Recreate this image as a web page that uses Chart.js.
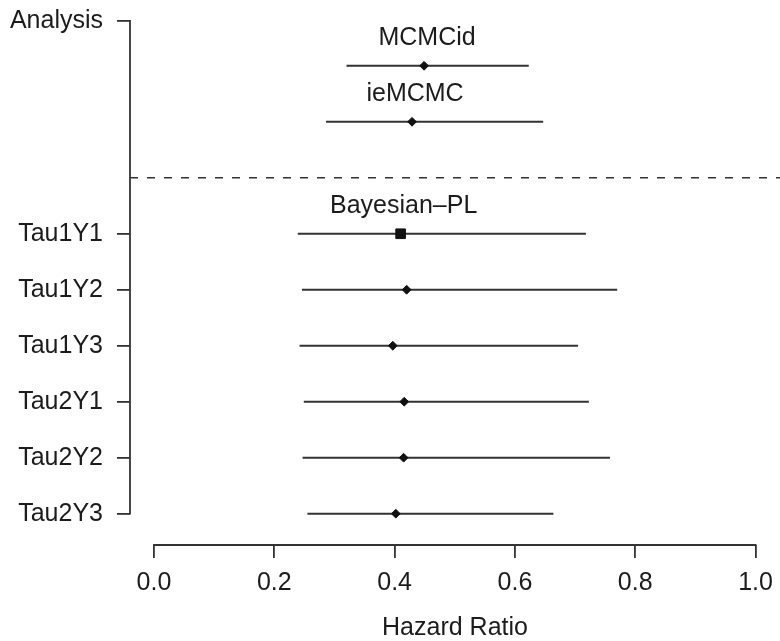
<!DOCTYPE html>
<html>
<head>
<meta charset="utf-8">
<script src="https://cdn.jsdelivr.net/npm/chart.js@4.4.1/dist/chart.umd.min.js"></script>
<style>
  html, body { margin: 0; padding: 0; background: #ffffff; }
  canvas { display: block; }
</style>
</head>
<body>
<canvas id="c" width="780" height="641"></canvas>
<script>
// ---- data ----
const rowNames   = ['MCMCid', 'ieMCMC', 'Tau1Y1', 'Tau1Y2', 'Tau1Y3', 'Tau2Y1', 'Tau2Y2', 'Tau2Y3'];
const rowPos     = [9, 8, 6, 5, 4, 3, 2, 1];
const estimate   = [0.449, 0.429, 0.410, 0.420, 0.397, 0.416, 0.415, 0.402];
const lower      = [0.320, 0.286, 0.239, 0.246, 0.242, 0.249, 0.247, 0.255];
const upper      = [0.623, 0.647, 0.718, 0.770, 0.705, 0.723, 0.758, 0.664];
const markerKind = ['diamond', 'diamond', 'square', 'diamond', 'diamond', 'diamond', 'diamond', 'diamond'];

const methodLabels = ['MCMCid', 'ieMCMC', 'Bayesian\u2013PL'];
const methodRows   = [9, 8, 6];

const yTickValues = [9.8, 6, 5, 4, 3, 2, 1];
const yTickLabels = ['Analysis', 'Tau1Y1', 'Tau1Y2', 'Tau1Y3', 'Tau2Y1', 'Tau2Y2', 'Tau2Y3'];
const xTickValues = [0, 0.2, 0.4, 0.6, 0.8, 1.0];
const xTickLabels = ['0.0', '0.2', '0.4', '0.6', '0.8', '1.0'];
const separatorRow = 7;
const xTitle = 'Hazard Ratio';

// ---- chart ----
const FONT = '"Liberation Sans", Arial, Helvetica, sans-serif';
const FS = 25;
const LINE = '#333333';
const TEXT = '#1c1c1c';
Chart.defaults.font.family = FONT;
Chart.defaults.font.size = FS;
Chart.defaults.color = TEXT;

const ciDatasets = rowNames.map((name, i) => ({
  label: name + ' CI',
  type: 'scatter',
  showLine: true,
  data: [{ x: lower[i], y: rowPos[i] }, { x: upper[i], y: rowPos[i] }],
  borderColor: LINE,
  borderWidth: 2,
  pointRadius: 0,
  pointHoverRadius: 0,
  clip: false,
  order: 2
}));

const pointDataset = {
  label: 'Estimate',
  type: 'scatter',
  data: rowNames.map((n, i) => ({ x: estimate[i], y: rowPos[i] })),
  pointStyle: markerKind.map(k => k === 'square' ? 'rect' : 'rectRot'),
  pointRadius: markerKind.map(k => k === 'square' ? 6.8 : 4.4),
  backgroundColor: '#111111',
  borderColor: '#111111',
  borderWidth: 1,
  clip: false,
  order: 1
};

const decorPlugin = {
  id: 'decor',
  beforeDatasetsDraw(chart) {
    const { ctx, chartArea, scales: { x, y } } = chart;
    ctx.save();
    ctx.strokeStyle = LINE;
    ctx.lineWidth = 1.8;
    // y axis line: from header tick to last row tick
    ctx.beginPath();
    ctx.moveTo(chartArea.left, y.getPixelForValue(yTickValues[0]) - 0.9);
    ctx.lineTo(chartArea.left, y.getPixelForValue(yTickValues[yTickValues.length - 1]) + 0.9);
    ctx.stroke();
    // x axis line: from first to last tick
    ctx.beginPath();
    ctx.moveTo(x.getPixelForValue(xTickValues[0]) - 0.9, chartArea.bottom);
    ctx.lineTo(x.getPixelForValue(xTickValues[xTickValues.length - 1]) + 0.9, chartArea.bottom);
    ctx.stroke();
    // dashed separator between analyses and Bayesian-PL rows
    ctx.lineWidth = 1.6;
    ctx.setLineDash([8, 9]);
    const sy = y.getPixelForValue(separatorRow);
    ctx.beginPath();
    ctx.moveTo(chartArea.left, sy);
    ctx.lineTo(chart.width, sy);
    ctx.stroke();
    ctx.restore();
  },
  afterDatasetsDraw(chart) {
    const { ctx, scales: { x, y } } = chart;
    ctx.save();
    ctx.fillStyle = TEXT;
    ctx.font = FS + 'px ' + FONT;
    ctx.textAlign = 'center';
    ctx.textBaseline = 'middle';
    methodLabels.forEach((t, k) => {
      const idx = rowPos.indexOf(methodRows[k]);
      ctx.fillText(t, x.getPixelForValue(estimate[idx]) + 3, y.getPixelForValue(methodRows[k] + 0.5));
    });
    ctx.restore();
  }
};

new Chart(document.getElementById('c'), {
  type: 'scatter',
  data: { datasets: [...ciDatasets, pointDataset] },
  options: {
    responsive: false,
    devicePixelRatio: 1,
    animation: false,
    layout: { autoPadding: false, padding: { top: 21, right: 0, bottom: 0, left: 0 } },
    plugins: { legend: { display: false }, tooltip: { enabled: false } },
    scales: {
      x: {
        type: 'linear',
        min: -0.0399,
        max: 1.0407,
        afterBuildTicks(scale) { scale.ticks = xTickValues.map(v => ({ value: v })); },
        afterFit(scale) { scale.height = 96; scale.paddingLeft = 0; scale.paddingRight = 0; },
        ticks: {
          padding: 0,
          color: TEXT,
          font: { size: FS, lineHeight: 2.04 },
          maxRotation: 0,
          autoSkip: false,
          callback: (v, i) => xTickLabels[i]
        },
        grid: { drawOnChartArea: false, drawTicks: true, tickLength: 13, color: LINE, lineWidth: 1.8 },
        border: { display: false },
        title: { display: true, text: xTitle, color: TEXT, font: { size: FS, lineHeight: 1.06 }, padding: { top: 0, bottom: 0 } }
      },
      y: {
        type: 'linear',
        min: 0.441,
        max: 9.8,
        afterBuildTicks(scale) { scale.ticks = yTickValues.map(v => ({ value: v })); },
        afterFit(scale) { scale.width = 130; scale.paddingTop = 0; scale.paddingBottom = 0; },
        ticks: {
          padding: 14,
          color: TEXT,
          font: { size: FS },
          autoSkip: false,
          callback: (v, i) => yTickLabels[i]
        },
        grid: { drawOnChartArea: false, drawTicks: true, tickLength: 13, color: LINE, lineWidth: 1.8 },
        border: { display: false }
      }
    }
  },
  plugins: [decorPlugin]
});
</script>
</body>
</html>
